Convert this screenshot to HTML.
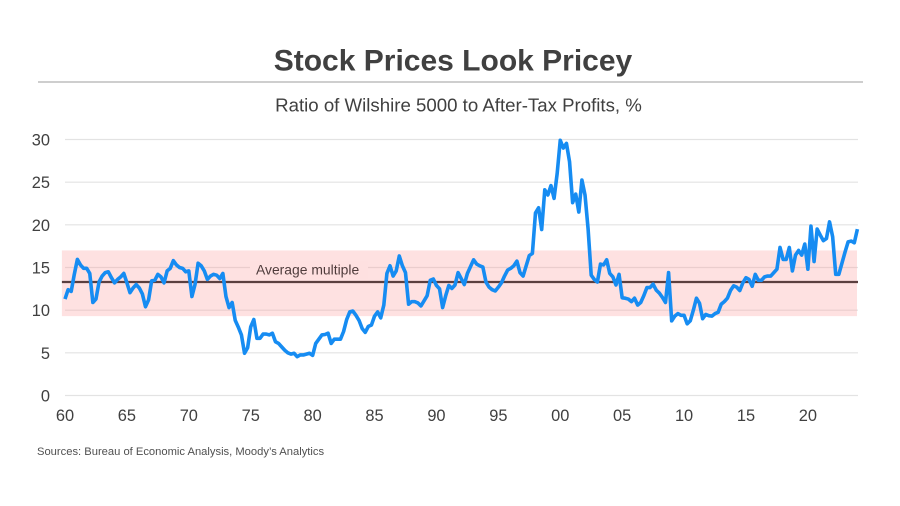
<!DOCTYPE html>
<html lang="en">
<head>
<meta charset="utf-8">
<title>Stock Prices Look Pricey</title>
<style>
  html, body { margin: 0; padding: 0; background: #fff; }
  body { width: 900px; height: 506px; overflow: hidden; }
  svg { display: block; font-family: "Liberation Sans", sans-serif; }
</style>
</head>
<body>
<svg id="chart" width="900" height="506" viewBox="0 0 900 506" xmlns="http://www.w3.org/2000/svg">
  <rect x="0" y="0" width="900" height="506" fill="#ffffff"/>
  <text x="453" y="70.5" text-anchor="middle" font-size="30" font-weight="700" fill="#404040">Stock Prices Look Pricey</text>
  <line x1="38" y1="82" x2="863" y2="82" stroke="#bdbdbd" stroke-width="1.4"/>
  <text x="458.5" y="111.5" text-anchor="middle" font-size="18.65" fill="#404040">Ratio of Wilshire 5000 to After-Tax Profits, %</text>
  <g id="grid"></g>
  <g id="yticks"></g>
  <g id="xticks"></g>
  <g id="marks"></g>
  <text x="37" y="455" font-size="11.2" fill="#505050">Sources: Bureau of Economic Analysis, Moody’s Analytics</text>
</svg>
<script>
const startYear = 60;
const quartersPerYear = 4;
const yTickValues = [0, 5, 10, 15, 20, 25, 30];
const xTickYears = [60, 65, 70, 75, 80, 85, 90, 95, 100, 105, 110, 115, 120];
const xTickLabels = ["60", "65", "70", "75", "80", "85", "90", "95", "00", "05", "10", "15", "20"];
const averageMultiple = 13.3;
const bandLow = 9.3;
const bandHigh = 17;
const ratioValues = [
  11.3,12.4,12.2,14.2, 15.95,15.3,14.9,14.9, 14.3,10.9,11.3,13.3, 14.0,14.4,14.5,13.8,
  13.2,13.6,13.9,14.3, 13.2,12.05,12.6,13.0, 12.6,11.9,10.4,11.2, 13.45,13.5,14.2,13.9,
  13.2,14.6,14.9,15.8, 15.3,15.0,14.9,14.5, 14.6,11.6,13.0,15.5, 15.2,14.6,13.6,14.0,
  14.2,14.1,13.7,14.3, 11.6,10.3,10.9,8.8, 8.0,7.1,4.95,5.6, 8.05,8.9,6.7,6.7,
  7.2,7.2,7.1,7.3, 6.3,6.1,5.7,5.3, 5.0,4.85,4.95,4.55, 4.75,4.75,4.85,4.95,
  4.7,6.1,6.6,7.1, 7.15,7.3,6.1,6.6, 6.6,6.6,7.5,8.9, 9.8,9.9,9.4,8.8,
  7.85,7.4,8.1,8.25, 9.3,9.8,9.1,10.6, 14.3,15.2,14.0,14.6, 16.35,15.2,14.4,10.7,
  11.0,11.0,10.85,10.5, 11.1,11.7,13.5,13.65, 12.9,12.5,10.3,11.7, 12.9,12.55,12.95,14.4,
  13.7,13.0,14.3,15.1, 15.9,15.4,15.2,15.05, 13.3,12.7,12.4,12.25, 12.7,13.2,14.0,14.7,
  14.9,15.2,15.75,14.4, 14.0,15.2,16.4,16.65, 21.4,22.0,19.45,24.1, 23.5,24.6,23.1,26.0,
  29.9,29.0,29.55,27.4, 22.6,23.6,21.5,25.25, 23.5,19.5,14.1,13.6, 13.3,15.4,15.3,15.9,
  14.3,13.9,12.95,14.2, 11.45,11.4,11.3,11.0, 11.4,10.6,10.9,11.7, 12.65,12.65,13.05,12.35,
  12.0,11.5,10.9,14.4, 8.75,9.3,9.6,9.4, 9.4,8.4,8.75,10.0, 11.4,10.8,9.0,9.5,
  9.35,9.3,9.6,9.75, 10.7,11.0,11.4,12.3, 12.85,12.7,12.3,13.2, 13.8,13.6,12.8,14.2,
  13.5,13.5,13.9,14.0, 14.0,14.4,14.8,17.35, 15.95,15.95,17.35,14.6, 16.45,17.0,16.45,17.75,
  14.8,19.85,15.7,19.5, 18.8,18.15,18.4,20.35, 18.6,14.2,14.2,15.5, 16.8,18.0,18.1,17.9,
  19.5
];

const NS = 'http://www.w3.org/2000/svg';
const plotLeft = 65, plotRight = 857.4, gridRight = 858, plotBottom = 395.5, plotTop = 139.5;
const lastQuarter = ratioValues.length - 1;
function xAt(quarter) { return plotLeft + quarter * (plotRight - plotLeft) / lastQuarter; }
function xYear(year) { return xAt((year - startYear) * quartersPerYear); }
function yAt(value) { return plotBottom - value * (plotBottom - plotTop) / 30; }
function make(tag, parent, attrs, text) {
  const el = document.createElementNS(NS, tag);
  for (const k in attrs) el.setAttribute(k, attrs[k]);
  if (text !== undefined) el.textContent = text;
  parent.appendChild(el);
  return el;
}

const grid = document.getElementById('grid');
const yticks = document.getElementById('yticks');
const xticks = document.getElementById('xticks');
const marks = document.getElementById('marks');

yTickValues.forEach(function (v) {
  const line = make('line', grid, { x1: plotLeft, x2: gridRight, y1: yAt(v), y2: yAt(v), stroke: '#e3e3e3', 'stroke-width': 1.2 });
  
  
  const label = make('text', yticks, { x: 50, y: yAt(v) + 6, 'text-anchor': 'end', 'font-size': 16.4, fill: '#404040' }, String(v));
  
  
});

xTickYears.forEach(function (year, i) {
  const label = make('text', xticks, { x: xYear(year), y: 421, 'text-anchor': 'middle', 'font-size': 16.4, fill: '#404040' }, xTickLabels[i]);
  
  
});

const band = make('rect', marks, {
  x: xAt(-1), y: yAt(bandHigh), width: gridRight - 1 - xAt(-1), height: yAt(bandLow) - yAt(bandHigh),
  fill: '#fc9a9a', 'fill-opacity': 0.3
});



const labelBack = make('rect', marks, { x: 250, y: 261, width: 118, height: 18, fill: '#fee0e0' });



const avgLabel = make('text', marks, { x: 256, y: 274.5, 'font-size': 13.9, fill: '#4f3c3c' }, 'Average multiple');



const avgLine = make('line', marks, {
  x1: xAt(-1), x2: gridRight, y1: yAt(averageMultiple), y2: yAt(averageMultiple),
  stroke: '#5b3f3f', 'stroke-width': 2.2
});



const d = ratioValues.map(function (v, i) {
  return (i ? 'L' : 'M') + xAt(i).toFixed(2) + ' ' + yAt(v).toFixed(2);
}).join(' ');
const series = make('path', marks, {
  d: d, fill: 'none', stroke: '#168cf2', 'stroke-width': 3.6,
  'stroke-linejoin': 'round', 'stroke-linecap': 'butt'
});


</script>
</body>
</html>
